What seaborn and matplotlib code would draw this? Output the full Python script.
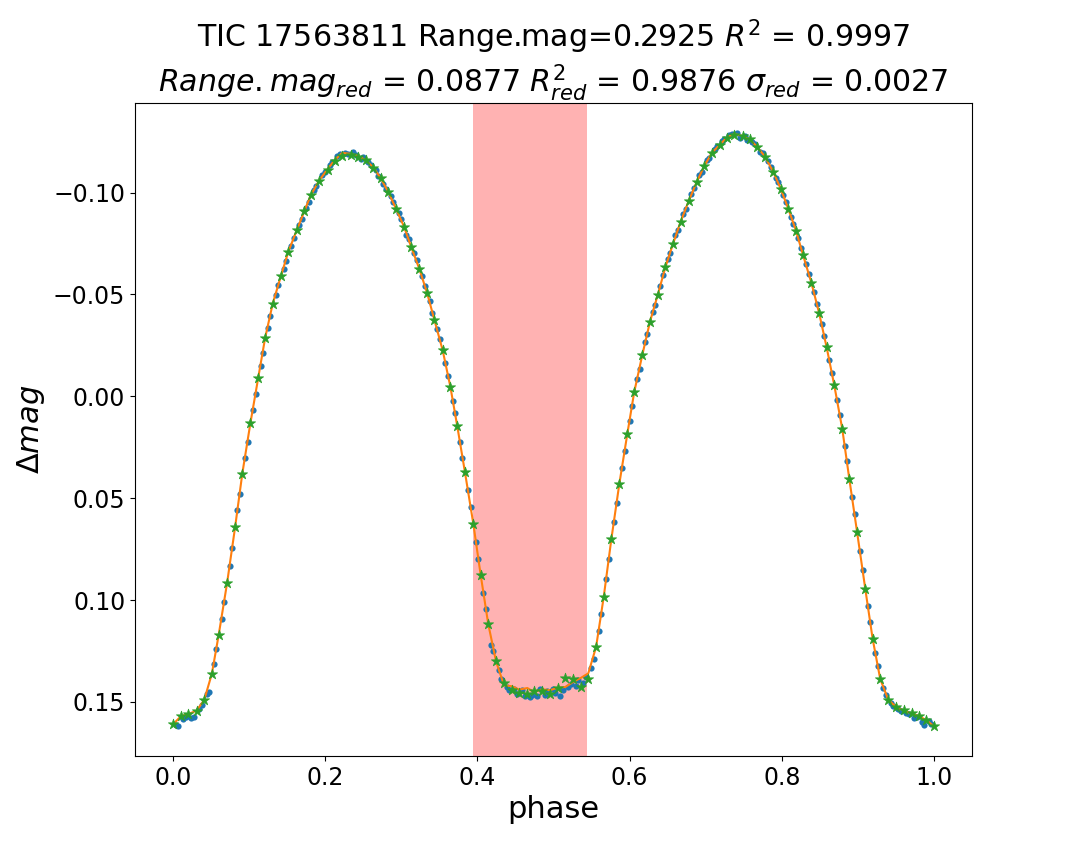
import numpy as np
import pandas as pd
import matplotlib
matplotlib.use("Agg")
import matplotlib.pyplot as plt
import seaborn as sns

# binned points (green stars)
bin_phase = [0.000, 0.0105, 0.020, 0.031, 0.041, 0.051, 0.060, 0.071, 0.0815, 0.091,
             0.1016, 0.112, 0.121, 0.131, 0.142, 0.1515, 0.1625, 0.1725, 0.181, 0.192,
             0.203, 0.2125, 0.2225, 0.2335, 0.2435, 0.253, 0.263, 0.273, 0.283, 0.293,
             0.3035, 0.313, 0.3237, 0.334, 0.3434, 0.3544, 0.3644, 0.3736, 0.3837, 0.3946,
             0.4043, 0.4142, 0.4244, 0.435, 0.445, 0.455, 0.4656, 0.4748, 0.4853, 0.4954,
             0.5055, 0.5155, 0.526, 0.5357, 0.5457, 0.556, 0.566, 0.576, 0.5865, 0.597,
             0.606, 0.6167, 0.6268, 0.637, 0.647, 0.657, 0.667, 0.6777, 0.688, 0.698,
             0.708, 0.7188, 0.7276, 0.7376, 0.7486, 0.758, 0.768, 0.778, 0.7889, 0.7985,
             0.8086, 0.8187, 0.828, 0.839, 0.849, 0.859, 0.869, 0.8795, 0.8887, 0.899,
             0.9097, 0.9194, 0.9294, 0.940, 0.950, 0.960, 0.9707, 0.9807, 0.990, 1.000]
bin_mag = [0.161, 0.157, 0.156, 0.1543, 0.149, 0.1362, 0.1171, 0.0917, 0.0644, 0.038,
           0.0133, -0.0092, -0.0286, -0.0455, -0.0593, -0.071, -0.0814, -0.0908, -0.0987, -0.1059,
           -0.111, -0.1155, -0.1181, -0.1185, -0.1177, -0.1159, -0.1119, -0.107, -0.1002, -0.0921,
           -0.0833, -0.0733, -0.0625, -0.0506, -0.0376, -0.0225, -0.0048, 0.0148, 0.0374, 0.0625,
           0.0877, 0.1117, 0.130, 0.1407, 0.1443, 0.1455, 0.146, 0.1447, 0.1447, 0.146,
           0.143, 0.1383, 0.1386, 0.1427, 0.139, 0.123, 0.0985, 0.0702, 0.043, 0.0185,
           -0.0019, -0.0203, -0.0366, -0.0498, -0.0633, -0.0748, -0.0856, -0.0959, -0.105, -0.1129,
           -0.1195, -0.1236, -0.127, -0.1285, -0.1278, -0.1261, -0.1223, -0.1176, -0.1101, -0.102,
           -0.092, -0.0813, -0.0693, -0.0556, -0.041, -0.024, -0.0054, 0.016, 0.0404, 0.0667,
           0.0944, 0.119, 0.1388, 0.149, 0.1524, 0.1542, 0.1557, 0.1571, 0.159, 0.162]

# fitted curve (orange line) at the same phases
fit_mag = [0.161, 0.157, 0.156, 0.1543, 0.149, 0.1362, 0.1171, 0.0917, 0.0644, 0.038,
           0.0133, -0.0092, -0.0286, -0.0455, -0.0593, -0.071, -0.0814, -0.0908, -0.0987, -0.1059,
           -0.1115, -0.116, -0.1195, -0.119, -0.118, -0.1159, -0.1125, -0.107, -0.1002, -0.0921,
           -0.0833, -0.0733, -0.0625, -0.0506, -0.0376, -0.0225, -0.0048, 0.0148, 0.0374, 0.0625,
           0.0877, 0.1117, 0.130, 0.1419, 0.1423, 0.1440, 0.1432, 0.1452, 0.1438, 0.1443,
           0.1430, 0.1427, 0.1402, 0.1383, 0.1360, 0.123, 0.0985, 0.0702, 0.043, 0.0185,
           -0.0019, -0.0203, -0.0366, -0.0498, -0.0633, -0.0748, -0.0856, -0.0959, -0.105, -0.1129,
           -0.1195, -0.1236, -0.127, -0.1288, -0.1278, -0.1261, -0.1223, -0.1176, -0.1101, -0.102,
           -0.092, -0.0813, -0.0693, -0.0556, -0.041, -0.024, -0.0054, 0.016, 0.0404, 0.0667,
           0.0944, 0.119, 0.1388, 0.149, 0.1524, 0.1542, 0.1557, 0.1571, 0.159, 0.162]

# raw observations (blue dots)
obs_phase = [0.0035, 0.007, 0.0137, 0.0168, 0.0237, 0.027, 0.0343, 0.0377, 0.0443, 0.0477,
             0.054, 0.057, 0.0637, 0.0673, 0.0745, 0.078, 0.0847, 0.0878, 0.0945, 0.098,
             0.105, 0.1085, 0.115, 0.118, 0.1243, 0.1277, 0.1347, 0.1383, 0.1452, 0.1483,
             0.1552, 0.1588, 0.1658, 0.1692, 0.1753, 0.1782, 0.1847, 0.1883, 0.1957, 0.1993,
             0.2062, 0.2093, 0.2158, 0.2192, 0.2262, 0.2298, 0.2368, 0.2402, 0.2467, 0.2498,
             0.2563, 0.2597, 0.2663, 0.2697, 0.2763, 0.2797, 0.2863, 0.2897, 0.2965, 0.300,
             0.3067, 0.3098, 0.3166, 0.3201, 0.3271, 0.3306, 0.3371, 0.3403, 0.3471, 0.3507,
             0.3577, 0.3611, 0.3675, 0.3705, 0.377, 0.3803, 0.3873, 0.391, 0.3978, 0.4011,
             0.4076, 0.4109, 0.4176, 0.421, 0.4279, 0.4315, 0.4383, 0.4417, 0.4483, 0.4517,
             0.4585, 0.462, 0.4687, 0.4717, 0.4783, 0.4818, 0.4887, 0.492, 0.4988, 0.5021,
             0.5088, 0.5122, 0.519, 0.5225, 0.5292, 0.5325, 0.539, 0.5424, 0.5491, 0.5526,
             0.5593, 0.5627, 0.5693, 0.5727, 0.5795, 0.583, 0.590, 0.5935, 0.600, 0.603,
             0.6096, 0.6131, 0.6201, 0.6234, 0.6302, 0.6336, 0.6403, 0.6437, 0.6503, 0.6537,
             0.6603, 0.6637, 0.6706, 0.6741, 0.6811, 0.6846, 0.6913, 0.6947, 0.7013, 0.7047,
             0.7116, 0.7152, 0.7217, 0.7247, 0.7309, 0.7343, 0.7413, 0.745, 0.7517, 0.7549,
             0.7613, 0.7647, 0.7713, 0.7747, 0.7816, 0.7853, 0.7921, 0.7953, 0.8019, 0.8052,
             0.812, 0.8153, 0.8218, 0.8249, 0.8317, 0.8353, 0.8423, 0.8457, 0.8523, 0.8557,
             0.8623, 0.8657, 0.8725, 0.876, 0.8826, 0.8856, 0.8921, 0.8956, 0.9026, 0.9061,
             0.9129, 0.9162, 0.9227, 0.9261, 0.9329, 0.9365, 0.9433, 0.9467, 0.9533, 0.9567,
             0.9636, 0.9671, 0.974, 0.9774, 0.9838, 0.9869, 0.9933, 0.9967]
obs_mag = [0.1615, 0.162, 0.1585, 0.1575, 0.1578, 0.1572, 0.1535, 0.1515, 0.1462, 0.1452,
           0.1315, 0.124, 0.1095, 0.101, 0.0833, 0.0745, 0.056, 0.0478, 0.0305, 0.0225,
           0.0065, -0.001, -0.015, -0.0215, -0.0335, -0.0395, -0.0495, -0.0545, -0.0625, -0.0665,
           -0.074, -0.0775, -0.084, -0.087, -0.0925, -0.0955, -0.1015, -0.103, -0.1085, -0.110,
           -0.1135, -0.115, -0.118, -0.119, -0.1195, -0.119, -0.120, -0.1185, -0.1165, -0.1175,
           -0.115, -0.1135, -0.111, -0.108, -0.104, -0.102, -0.0985, -0.0955, -0.090, -0.087,
           -0.079, -0.077, -0.0705, -0.067, -0.059, -0.054, -0.047, -0.041, -0.033, -0.028,
           -0.0165, -0.010, 0.0025, 0.008, 0.0225, 0.0305, 0.046, 0.0545, 0.0715, 0.080,
           0.0965, 0.1045, 0.122, 0.125, 0.1345, 0.139, 0.1425, 0.144, 0.1435, 0.146,
           0.144, 0.147, 0.1475, 0.1465, 0.147, 0.1435, 0.1465, 0.1445, 0.1435, 0.1455,
           0.147, 0.144, 0.1425, 0.141, 0.142, 0.1395, 0.1405, 0.138, 0.1335, 0.129,
           0.115, 0.107, 0.0895, 0.080, 0.0615, 0.0525, 0.035, 0.027, 0.012, 0.005,
           -0.0085, -0.0135, -0.0265, -0.0305, -0.0415, -0.045, -0.054, -0.0595, -0.0675, -0.0705,
           -0.079, -0.0815, -0.0895, -0.092, -0.0995, -0.1025, -0.1085, -0.110, -0.116, -0.117,
           -0.1215, -0.123, -0.1255, -0.1265, -0.1285, -0.129, -0.1295, -0.127, -0.128, -0.126,
           -0.125, -0.124, -0.120, -0.1195, -0.1155, -0.1125, -0.107, -0.105, -0.099, -0.0955,
           -0.088, -0.0845, -0.0775, -0.073, -0.065, -0.060, -0.051, -0.0455, -0.0355, -0.0295,
           -0.018, -0.0115, 0.002, 0.009, 0.0245, 0.032, 0.0495, 0.058, 0.076, 0.0855,
           0.103, 0.111, 0.126, 0.1325, 0.143, 0.1465, 0.1505, 0.152, 0.1535, 0.1545,
           0.1555, 0.156, 0.158, 0.1575, 0.160, 0.1615, 0.1595, 0.161]

# shaded eclipse window
span_start, span_end = 0.394, 0.544

title_text = ("TIC 17563811 Range.mag=0.2925 $R^2$ = 0.9997\n"
              "$Range.mag_{red}$ = 0.0877 $R_{red}^2$ = 0.9876 $\\sigma_{red}$ = 0.0027")

obs = pd.DataFrame({"phase": obs_phase, "mag": obs_mag})
bins = pd.DataFrame({"phase": bin_phase, "mag": bin_mag, "fit": fit_mag})

fig, ax = plt.subplots(figsize=(10.8, 8.64), dpi=100)
fig.subplots_adjust(left=0.125, right=0.9, top=0.881, bottom=0.125)

ax.axvspan(span_start, span_end, color="red", alpha=0.3, lw=0)
sns.scatterplot(data=obs, x="phase", y="mag", ax=ax, color="C0", s=20,
                edgecolor="C0", linewidth=0, zorder=2, legend=False)
sns.lineplot(data=bins, x="phase", y="fit", ax=ax, color="C1", lw=1.5,
             sort=False, zorder=3, legend=False)
sns.scatterplot(data=bins, x="phase", y="mag", ax=ax, color="C2", marker="*", s=60,
                edgecolor="C2", linewidth=0.5, zorder=4, legend=False)

ax.invert_yaxis()
ax.set_xlabel("phase", fontsize=22)
ax.set_ylabel(r"$\Delta mag$", fontsize=22)
ax.set_title(title_text, fontsize=21.6)
ax.tick_params(labelsize=17)

plt.savefig("out.png", dpi=100)
